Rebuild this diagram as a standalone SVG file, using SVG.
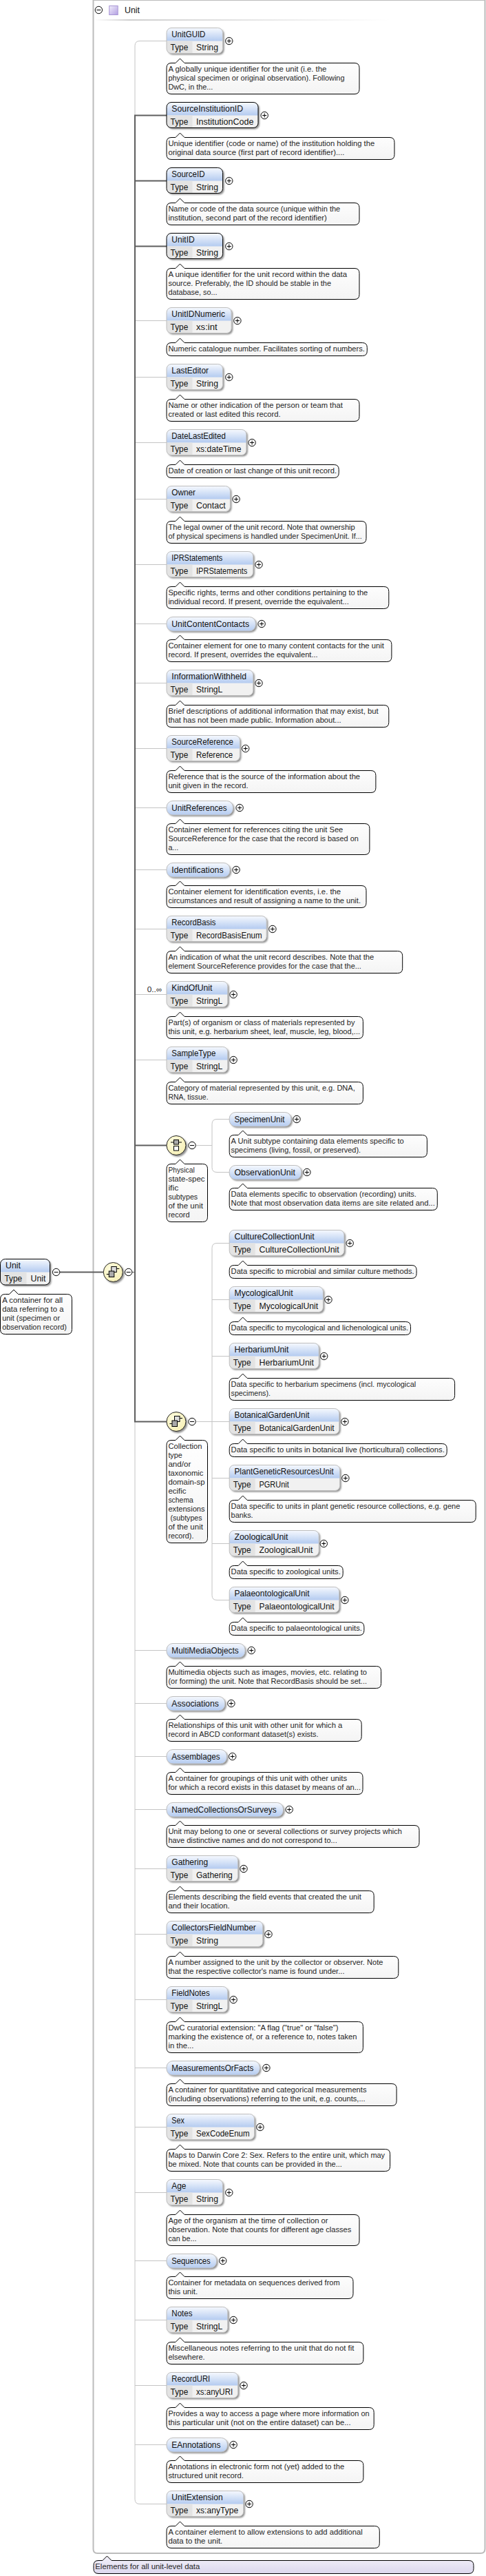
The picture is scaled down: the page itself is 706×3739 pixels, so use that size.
<svg xmlns="http://www.w3.org/2000/svg" xmlns:xlink="http://www.w3.org/1999/xlink" width="706" height="3739" viewBox="0 0 706 3739">
<style>
text{font-family:"Liberation Sans",Arial,sans-serif;font-size:11px;fill:#262626}
.n,.v{font-size:12px;fill:#111}
.b{fill:#f1f1f1;filter:url(#sh)}
.h{fill:url(#hd)}
.hs{fill:url(#hd);filter:url(#sh)}
.t{fill:#e3e3e3}
.o{fill:none;stroke:#bdbdbd;stroke-width:1}
.r{fill:none;stroke:#000;stroke-width:1}
.c{fill:url(#bb);stroke:#000;stroke-width:1}
.thin{fill:none;stroke:#c4c4c4;stroke-width:1}
.thick{fill:none;stroke:#5e5e5e;stroke-width:2}
</style>
<defs>
<linearGradient id="hd" x1="0" y1="0" x2="0" y2="1"><stop offset="0" stop-color="#f6f9fe"/><stop offset="1" stop-color="#b4cbf0"/></linearGradient>
<linearGradient id="bb" x1="0" y1="0" x2="0" y2="1"><stop offset="0" stop-color="#ffffff"/><stop offset="1" stop-color="#f4f4f4"/></linearGradient>
<linearGradient id="lv" x1="0" y1="0" x2="0" y2="1"><stop offset="0" stop-color="#f3f1fa"/><stop offset="1" stop-color="#dcd8ee"/></linearGradient>
<linearGradient id="pu" x1="0" y1="0" x2="1" y2="1"><stop offset="0" stop-color="#f2eefb"/><stop offset="1" stop-color="#b3a0e2"/></linearGradient>
<linearGradient id="fade" x1="0" y1="0" x2="1" y2="0"><stop offset="0" stop-color="#ffffff"/><stop offset=".12" stop-color="#cfcfcf"/><stop offset="1" stop-color="#ffffff"/></linearGradient>
<radialGradient id="ye" cx=".4" cy=".35" r=".7"><stop offset="0" stop-color="#fffde2"/><stop offset="1" stop-color="#f6efb4"/></radialGradient>
<filter id="sh" x="-10%" y="-10%" width="125%" height="130%"><feDropShadow dx="2" dy="2" stdDeviation=".8" flood-color="#555" flood-opacity=".65"/></filter>
<g id="p"><circle r="5.2" fill="#fff" stroke="#000"/><path d="M-3 0H3M0-3V3" stroke="#000" stroke-width="1"/></g>
<g id="m"><circle r="5.2" fill="#fff" stroke="#000"/><path d="M-3 0H3" stroke="#000" stroke-width="1"/></g>
<g id="seq"><circle r="14" fill="url(#ye)" stroke="#222" filter="url(#sh)"/><path d="M-9.5 3H-6M4.5-5H9" stroke="#000" fill="none"/><rect x="-2.5" y="-8" width="7.5" height="8" fill="#ddd" stroke="#000"/><rect x="-6" y="-1.5" width="7.5" height="8.5" fill="#aaa" stroke="#000"/></g>
<g id="cho"><circle r="14" fill="url(#ye)" stroke="#222" filter="url(#sh)"/><path d="M-8 -4.500H8" stroke="#000"/><rect x="-3.500" y="-8" width="7" height="6.500" fill="#aaa" stroke="#000"/><rect x="-3.500" y="1" width="7" height="6.500" fill="#fff" stroke="#000"/></g>
</defs>

<g id="container">
<path d="M135.500 0V3700q0 6 6 6H698q6.500 0 6.500-6.500V0" fill="none" stroke="#bcbcbc" stroke-width="2"/>
<path d="M136 0.500H705" stroke="#bcbcbc" stroke-width="1"/>
<rect x="137" y="28" width="430" height="2" fill="url(#fade)"/>
<use href="#m" x="143.400" y="14.500"/>
<rect x="158.700" y="8.500" width="12.500" height="13" fill="url(#pu)" stroke="#a896d4"/>
<text class="n" x="181" y="18.500" textLength="22" lengthAdjust="spacingAndGlyphs">Unit</text>
</g>

<g id="connectors">
<path class="thin" d="M242 59.500H203Q196 59.500 196 66.500V167"/>
<path class="thin" d="M196 2063V3627.500Q196 3634.500 203 3634.500H242"/>
<path class="thin" d="M196 465.500H242M196 547.500H242M196 642.500H242M196 724.500H242M196 819.500H242M196 905.500H242M196 991.500H242M196 1086.500H242M196 1172.500H242M196 1262.500H242M196 1348.500H242M196 1443.500H242M196 1538.500H242M196 2395.500H242M196 2472.500H242M196 2549.500H242M196 2626.500H242M196 2712.500H242M196 2807.500H242M196 2902.500H242M196 3001.500H242M196 3087.500H242M196 3182.500H242M196 3281.500H242M196 3367.500H242M196 3462.500H242M196 3548.500H242"/>
<path class="thick" d="M242 167.500H196V2063.500H242M242 262.500H196M242 357.500H196M242 1662.500H196"/>
<path class="thick" d="M87 1846.500H150"/>
<path class="thick" style="stroke-width:1" d="M192 1846.500H196"/>
<path class="thin" d="M285 1662.500H308M333 1624.500H315Q308 1624.500 308 1631.500V1694.500Q308 1701.500 315 1701.500H333"/>
<path class="thin" d="M285 2063.500H333M333 1804.500H315Q308 1804.500 308 1811.500V2315.500Q308 2322.500 315 2322.500H333M308 1886.500H333M308 1968.500H333M308 2145.500H333M308 2240.500H333"/>
</g>

<g id="Unit"><g transform="translate(0.500,1827.500)"><rect class="b" width="72" height="37.500" rx="7"/><path class="h" d="M0 19V7q0-7 7-7H65q7 0 7 7V19z"/><path class="t" d="M0 19H38V37.500H7q-7 0-7-7z"/><rect class="r" width="72" height="37.500" rx="7"/><text class="n" x="7.500" y="13.500" textLength="22" lengthAdjust="spacingAndGlyphs">Unit</text><text class="v" x="6" y="32.500" textLength="25.700" lengthAdjust="spacingAndGlyphs">Type</text><text class="v" x="44" y="32.500" textLength="22" lengthAdjust="spacingAndGlyphs">Unit</text></g><use href="#m" x="81.600" y="1846.500"/><g transform="translate(0.500,1878.500)"><path class="c" d="M7 0h6l6.500-6.500 6.500 6.500H97q7 0 7 7v44q0 7-7 7H7q-7 0-7-7V7q0-7 7-7z"/><text x="2.700" y="12.500" textLength="87.900" lengthAdjust="spacingAndGlyphs">A container for all</text><text x="2.700" y="25.500" textLength="89.300" lengthAdjust="spacingAndGlyphs">data referring to a</text><text x="2.700" y="38.500" textLength="83.900" lengthAdjust="spacingAndGlyphs">unit (specimen or</text><text x="2.700" y="51.500" textLength="93.800" lengthAdjust="spacingAndGlyphs">observation record)</text></g></g>

<g id="SeqMain"><use href="#seq" x="164.300" y="1846.500"/><use href="#m" x="186.700" y="1846.500"/></g>

<g id="UnitGUID"><g transform="translate(242,40.500)"><rect class="b" width="81.600" height="37" rx="7"/><path class="h" d="M0 19V7q0-7 7-7H74.600q7 0 7 7V19z"/><path class="t" d="M0 19H37.500V37H7q-7 0-7-7z"/><rect class="o" width="81.600" height="37" rx="7"/><text class="n" x="7.300" y="13.500" textLength="49.100" lengthAdjust="spacingAndGlyphs">UnitGUID</text><text class="v" x="5.600" y="32.500" textLength="25.700" lengthAdjust="spacingAndGlyphs">Type</text><text class="v" x="43" y="32.500" textLength="32" lengthAdjust="spacingAndGlyphs">String</text></g><use href="#p" x="332.800" y="59.500"/><g transform="translate(242,91.500)"><path class="c" d="M7 0h6l6.500-6.500 6.500 6.500H273q7 0 7 7v31q0 7-7 7H7q-7 0-7-7V7q0-7 7-7z"/><text x="2.400" y="12.500" textLength="230" lengthAdjust="spacingAndGlyphs">A globally unique identifier for the unit (i.e. the</text><text x="2.400" y="25.500" textLength="256.100" lengthAdjust="spacingAndGlyphs">physical specimen or original observation). Following</text><text x="2.400" y="38.500" textLength="64.900" lengthAdjust="spacingAndGlyphs">DwC, in the...</text></g></g>

<g id="SourceInstitutionID"><g transform="translate(242,148.500)"><rect class="b" width="133" height="37" rx="7"/><path class="h" d="M0 19V7q0-7 7-7H126q7 0 7 7V19z"/><path class="t" d="M0 19H37.500V37H7q-7 0-7-7z"/><rect class="r" width="133" height="37" rx="7"/><text class="n" x="7.300" y="13.500" textLength="103.700" lengthAdjust="spacingAndGlyphs">SourceInstitutionID</text><text class="v" x="5.600" y="32.500" textLength="25.700" lengthAdjust="spacingAndGlyphs">Type</text><text class="v" x="43" y="32.500" textLength="83.400" lengthAdjust="spacingAndGlyphs">InstitutionCode</text></g><use href="#p" x="384.200" y="167.500"/><g transform="translate(242,199.500)"><path class="c" d="M7 0h6l6.500-6.500 6.500 6.500H324q7 0 7 7v18q0 7-7 7H7q-7 0-7-7V7q0-7 7-7z"/><text x="2.400" y="12.500" textLength="299.800" lengthAdjust="spacingAndGlyphs">Unique identifier (code or name) of the institution holding the</text><text x="2.400" y="25.500" textLength="256.100" lengthAdjust="spacingAndGlyphs">original data source (first part of record identifier)....</text></g></g>

<g id="SourceID"><g transform="translate(242,243.500)"><rect class="b" width="81.600" height="37" rx="7"/><path class="h" d="M0 19V7q0-7 7-7H74.600q7 0 7 7V19z"/><path class="t" d="M0 19H37.500V37H7q-7 0-7-7z"/><rect class="r" width="81.600" height="37" rx="7"/><text class="n" x="7.300" y="13.500" textLength="48.200" lengthAdjust="spacingAndGlyphs">SourceID</text><text class="v" x="5.600" y="32.500" textLength="25.700" lengthAdjust="spacingAndGlyphs">Type</text><text class="v" x="43" y="32.500" textLength="32" lengthAdjust="spacingAndGlyphs">String</text></g><use href="#p" x="332.800" y="262.500"/><g transform="translate(242,294.500)"><path class="c" d="M7 0h6l6.500-6.500 6.500 6.500H273q7 0 7 7v18q0 7-7 7H7q-7 0-7-7V7q0-7 7-7z"/><text x="2.400" y="12.500" textLength="249.800" lengthAdjust="spacingAndGlyphs">Name or code of the data source (unique within the</text><text x="2.400" y="25.500" textLength="230.400" lengthAdjust="spacingAndGlyphs">institution, second part of the record identifier)</text></g></g>

<g id="UnitID"><g transform="translate(242,338.500)"><rect class="b" width="81.600" height="37" rx="7"/><path class="h" d="M0 19V7q0-7 7-7H74.600q7 0 7 7V19z"/><path class="t" d="M0 19H37.500V37H7q-7 0-7-7z"/><rect class="r" width="81.600" height="37" rx="7"/><text class="n" x="7.300" y="13.500" textLength="33.400" lengthAdjust="spacingAndGlyphs">UnitID</text><text class="v" x="5.600" y="32.500" textLength="25.700" lengthAdjust="spacingAndGlyphs">Type</text><text class="v" x="43" y="32.500" textLength="32" lengthAdjust="spacingAndGlyphs">String</text></g><use href="#p" x="332.800" y="357.500"/><g transform="translate(242,389.500)"><path class="c" d="M7 0h6l6.500-6.500 6.500 6.500H273q7 0 7 7v31q0 7-7 7H7q-7 0-7-7V7q0-7 7-7z"/><text x="2.400" y="12.500" textLength="259.700" lengthAdjust="spacingAndGlyphs">A unique identifier for the unit record within the data</text><text x="2.400" y="25.500" textLength="236.700" lengthAdjust="spacingAndGlyphs">source. Preferably, the ID should be stable in the</text><text x="2.400" y="38.500" textLength="71.200" lengthAdjust="spacingAndGlyphs">database, so...</text></g></g>

<g id="UnitIDNumeric"><g transform="translate(242,446.500)"><rect class="b" width="94.200" height="37" rx="7"/><path class="h" d="M0 19V7q0-7 7-7H87.200q7 0 7 7V19z"/><path class="t" d="M0 19H37.500V37H7q-7 0-7-7z"/><rect class="o" width="94.200" height="37" rx="7"/><text class="n" x="7.300" y="13.500" textLength="77.600" lengthAdjust="spacingAndGlyphs">UnitIDNumeric</text><text class="v" x="5.600" y="32.500" textLength="25.700" lengthAdjust="spacingAndGlyphs">Type</text><text class="v" x="43" y="32.500" textLength="30.700" lengthAdjust="spacingAndGlyphs">xs:int</text></g><use href="#p" x="344.900" y="465.500"/><g transform="translate(242,497.500)"><path class="c" d="M7 0h6l6.500-6.500 6.500 6.500H284.300q7 0 7 7v5q0 7-7 7H7q-7 0-7-7V7q0-7 7-7z"/><text x="2.400" y="12.500" textLength="285.400" lengthAdjust="spacingAndGlyphs">Numeric catalogue number. Facilitates sorting of numbers.</text></g></g>

<g id="LastEditor"><g transform="translate(242,528.500)"><rect class="b" width="81.600" height="37" rx="7"/><path class="h" d="M0 19V7q0-7 7-7H74.600q7 0 7 7V19z"/><path class="t" d="M0 19H37.500V37H7q-7 0-7-7z"/><rect class="o" width="81.600" height="37" rx="7"/><text class="n" x="7.300" y="13.500" textLength="53.700" lengthAdjust="spacingAndGlyphs">LastEditor</text><text class="v" x="5.600" y="32.500" textLength="25.700" lengthAdjust="spacingAndGlyphs">Type</text><text class="v" x="43" y="32.500" textLength="32" lengthAdjust="spacingAndGlyphs">String</text></g><use href="#p" x="332.800" y="547.500"/><g transform="translate(242,579.500)"><path class="c" d="M7 0h6l6.500-6.500 6.500 6.500H273q7 0 7 7v18q0 7-7 7H7q-7 0-7-7V7q0-7 7-7z"/><text x="2.400" y="12.500" textLength="253.400" lengthAdjust="spacingAndGlyphs">Name or other indication of the person or team that</text><text x="2.400" y="25.500" textLength="163.200" lengthAdjust="spacingAndGlyphs">created or last edited this record.</text></g></g>

<g id="DateLastEdited"><g transform="translate(242,623.500)"><rect class="b" width="115.900" height="37" rx="7"/><path class="h" d="M0 19V7q0-7 7-7H108.900q7 0 7 7V19z"/><path class="t" d="M0 19H37.500V37H7q-7 0-7-7z"/><rect class="o" width="115.900" height="37" rx="7"/><text class="n" x="7.300" y="13.500" textLength="78.500" lengthAdjust="spacingAndGlyphs">DateLastEdited</text><text class="v" x="5.600" y="32.500" textLength="25.700" lengthAdjust="spacingAndGlyphs">Type</text><text class="v" x="43" y="32.500" textLength="65.400" lengthAdjust="spacingAndGlyphs">xs:dateTime</text></g><use href="#p" x="366.100" y="642.500"/><g transform="translate(242,674.500)"><path class="c" d="M7 0h6l6.500-6.500 6.500 6.500H243.200q7 0 7 7v5q0 7-7 7H7q-7 0-7-7V7q0-7 7-7z"/><text x="2.400" y="12.500" textLength="244.800" lengthAdjust="spacingAndGlyphs">Date of creation or last change of this unit record.</text></g></g>

<g id="Owner"><g transform="translate(242,705.500)"><rect class="b" width="92.400" height="37" rx="7"/><path class="h" d="M0 19V7q0-7 7-7H85.400q7 0 7 7V19z"/><path class="t" d="M0 19H37.500V37H7q-7 0-7-7z"/><rect class="o" width="92.400" height="37" rx="7"/><text class="n" x="7.300" y="13.500" textLength="34.700" lengthAdjust="spacingAndGlyphs">Owner</text><text class="v" x="5.600" y="32.500" textLength="25.700" lengthAdjust="spacingAndGlyphs">Type</text><text class="v" x="43" y="32.500" textLength="42.800" lengthAdjust="spacingAndGlyphs">Contact</text></g><use href="#p" x="343.100" y="724.500"/><g transform="translate(242,756.500)"><path class="c" d="M7 0h6l6.500-6.500 6.500 6.500H283q7 0 7 7v18q0 7-7 7H7q-7 0-7-7V7q0-7 7-7z"/><text x="2.400" y="12.500" textLength="271.400" lengthAdjust="spacingAndGlyphs">The legal owner of the unit record. Note that ownership</text><text x="2.400" y="25.500" textLength="281.400" lengthAdjust="spacingAndGlyphs">of physical specimens is handled under SpecimenUnit. If...</text></g></g>

<g id="IPRStatements"><g transform="translate(242,800.500)"><rect class="b" width="125.800" height="37" rx="7"/><path class="h" d="M0 19V7q0-7 7-7H118.800q7 0 7 7V19z"/><path class="t" d="M0 19H37.500V37H7q-7 0-7-7z"/><rect class="o" width="125.800" height="37" rx="7"/><text class="n" x="7.300" y="13.500" textLength="73.900" lengthAdjust="spacingAndGlyphs">IPRStatements</text><text class="v" x="5.600" y="32.500" textLength="25.700" lengthAdjust="spacingAndGlyphs">Type</text><text class="v" x="43" y="32.500" textLength="74.400" lengthAdjust="spacingAndGlyphs">IPRStatements</text></g><use href="#p" x="376" y="819.500"/><g transform="translate(242,851.500)"><path class="c" d="M7 0h6l6.500-6.500 6.500 6.500H315.800q7 0 7 7v18q0 7-7 7H7q-7 0-7-7V7q0-7 7-7z"/><text x="2.400" y="12.500" textLength="289.900" lengthAdjust="spacingAndGlyphs">Specific rights, terms and other conditions pertaining to the</text><text x="2.400" y="25.500" textLength="262.400" lengthAdjust="spacingAndGlyphs">individual record. If present, override the equivalent...</text></g></g>

<g id="UnitContentContacts"><g transform="translate(242,895.500)"><rect class="hs" width="129.400" height="20.500" rx="9"/><rect class="o" width="129.400" height="20.500" rx="9"/><text class="n" x="7.300" y="14" textLength="112.700" lengthAdjust="spacingAndGlyphs">UnitContentContacts</text></g><use href="#p" x="380.100" y="905.500"/><g transform="translate(242,928.500)"><path class="c" d="M7 0h6l6.500-6.500 6.500 6.500H319.900q7 0 7 7v18q0 7-7 7H7q-7 0-7-7V7q0-7 7-7z"/><text x="2.400" y="12.500" textLength="313.400" lengthAdjust="spacingAndGlyphs">Container element for one to many content contacts for the unit</text><text x="2.400" y="25.500" textLength="217.300" lengthAdjust="spacingAndGlyphs">record. If present, overrides the equivalent...</text></g></g>

<g id="InformationWithheld"><g transform="translate(242,972.500)"><rect class="b" width="125.800" height="37" rx="7"/><path class="h" d="M0 19V7q0-7 7-7H118.800q7 0 7 7V19z"/><path class="t" d="M0 19H37.500V37H7q-7 0-7-7z"/><rect class="o" width="125.800" height="37" rx="7"/><text class="n" x="7.300" y="13.500" textLength="108.700" lengthAdjust="spacingAndGlyphs">InformationWithheld</text><text class="v" x="5.600" y="32.500" textLength="25.700" lengthAdjust="spacingAndGlyphs">Type</text><text class="v" x="43" y="32.500" textLength="38.300" lengthAdjust="spacingAndGlyphs">StringL</text></g><use href="#p" x="376" y="991.500"/><g transform="translate(242,1023.500)"><path class="c" d="M7 0h6l6.500-6.500 6.500 6.500H315.800q7 0 7 7v18q0 7-7 7H7q-7 0-7-7V7q0-7 7-7z"/><text x="2.400" y="12.500" textLength="305.300" lengthAdjust="spacingAndGlyphs">Brief descriptions of additional information that may exist, but</text><text x="2.400" y="25.500" textLength="251.200" lengthAdjust="spacingAndGlyphs">that has not been made public. Information about...</text></g></g>

<g id="SourceReference"><g transform="translate(242,1067.500)"><rect class="b" width="106.400" height="37" rx="7"/><path class="h" d="M0 19V7q0-7 7-7H99.400q7 0 7 7V19z"/><path class="t" d="M0 19H37.500V37H7q-7 0-7-7z"/><rect class="o" width="106.400" height="37" rx="7"/><text class="n" x="7.300" y="13.500" textLength="89.700" lengthAdjust="spacingAndGlyphs">SourceReference</text><text class="v" x="5.600" y="32.500" textLength="25.700" lengthAdjust="spacingAndGlyphs">Type</text><text class="v" x="43" y="32.500" textLength="53.200" lengthAdjust="spacingAndGlyphs">Reference</text></g><use href="#p" x="356.700" y="1086.500"/><g transform="translate(242,1118.500)"><path class="c" d="M7 0h6l6.500-6.500 6.500 6.500H296.900q7 0 7 7v18q0 7-7 7H7q-7 0-7-7V7q0-7 7-7z"/><text x="2.400" y="12.500" textLength="278.700" lengthAdjust="spacingAndGlyphs">Reference that is the source of the information about the</text><text x="2.400" y="25.500" textLength="116.300" lengthAdjust="spacingAndGlyphs">unit given in the record.</text></g></g>

<g id="UnitReferences"><g transform="translate(242,1162.500)"><rect class="hs" width="96.500" height="20.500" rx="9"/><rect class="o" width="96.500" height="20.500" rx="9"/><text class="n" x="7.300" y="14" textLength="80.300" lengthAdjust="spacingAndGlyphs">UnitReferences</text></g><use href="#p" x="348.100" y="1172.500"/><g transform="translate(242,1195.500)"><path class="c" d="M7 0h6l6.500-6.500 6.500 6.500H287.900q7 0 7 7v31q0 7-7 7H7q-7 0-7-7V7q0-7 7-7z"/><text x="2.400" y="12.500" textLength="253.900" lengthAdjust="spacingAndGlyphs">Container element for references citing the unit See</text><text x="2.400" y="25.500" textLength="276.400" lengthAdjust="spacingAndGlyphs">SourceReference for the case that the record is based on</text><text x="2.400" y="38.500" textLength="14.900" lengthAdjust="spacingAndGlyphs">a...</text></g></g>

<g id="Identifications"><g transform="translate(242,1252.500)"><rect class="hs" width="92" height="20.500" rx="9"/><rect class="o" width="92" height="20.500" rx="9"/><text class="n" x="7.300" y="14" textLength="75.300" lengthAdjust="spacingAndGlyphs">Identifications</text></g><use href="#p" x="343.100" y="1262.500"/><g transform="translate(242,1285.500)"><path class="c" d="M7 0h6l6.500-6.500 6.500 6.500H283q7 0 7 7v18q0 7-7 7H7q-7 0-7-7V7q0-7 7-7z"/><text x="2.400" y="12.500" textLength="250.700" lengthAdjust="spacingAndGlyphs">Container element for identification events, i.e. the</text><text x="2.400" y="25.500" textLength="279.600" lengthAdjust="spacingAndGlyphs">circumstances and result of assigning a name to the unit.</text></g></g>

<g id="RecordBasis"><g transform="translate(242,1329.500)"><rect class="b" width="145.200" height="37" rx="7"/><path class="h" d="M0 19V7q0-7 7-7H138.200q7 0 7 7V19z"/><path class="t" d="M0 19H37.500V37H7q-7 0-7-7z"/><rect class="o" width="145.200" height="37" rx="7"/><text class="n" x="7.300" y="13.500" textLength="64" lengthAdjust="spacingAndGlyphs">RecordBasis</text><text class="v" x="5.600" y="32.500" textLength="25.700" lengthAdjust="spacingAndGlyphs">Type</text><text class="v" x="43" y="32.500" textLength="95.600" lengthAdjust="spacingAndGlyphs">RecordBasisEnum</text></g><use href="#p" x="395.900" y="1348.500"/><g transform="translate(242,1380.500)"><path class="c" d="M7 0h6l6.500-6.500 6.500 6.500H335.700q7 0 7 7v18q0 7-7 7H7q-7 0-7-7V7q0-7 7-7z"/><text x="2.400" y="12.500" textLength="298.900" lengthAdjust="spacingAndGlyphs">An indication of what the unit record describes. Note that the</text><text x="2.400" y="25.500" textLength="280.500" lengthAdjust="spacingAndGlyphs">element SourceReference provides for the case that the...</text></g></g>

<g id="KindOfUnit"><g transform="translate(242,1424.500)"><rect class="b" width="88.800" height="37" rx="7"/><path class="h" d="M0 19V7q0-7 7-7H81.800q7 0 7 7V19z"/><path class="t" d="M0 19H37.500V37H7q-7 0-7-7z"/><rect class="o" width="88.800" height="37" rx="7"/><text class="n" x="7.300" y="13.500" textLength="59.100" lengthAdjust="spacingAndGlyphs">KindOfUnit</text><text class="v" x="5.600" y="32.500" textLength="25.700" lengthAdjust="spacingAndGlyphs">Type</text><text class="v" x="43" y="32.500" textLength="38.300" lengthAdjust="spacingAndGlyphs">StringL</text></g><use href="#p" x="339.100" y="1443.500"/><text x="213.700" y="1440" textLength="21.700" lengthAdjust="spacingAndGlyphs">0..∞</text><g transform="translate(242,1475.500)"><path class="c" d="M7 0h6l6.500-6.500 6.500 6.500H278.400q7 0 7 7v18q0 7-7 7H7q-7 0-7-7V7q0-7 7-7z"/><text x="2.400" y="12.500" textLength="271" lengthAdjust="spacingAndGlyphs">Part(s) of organism or class of materials represented by</text><text x="2.400" y="25.500" textLength="278.700" lengthAdjust="spacingAndGlyphs">this unit, e.g. herbarium sheet, leaf, muscle, leg, blood,...</text></g></g>

<g id="SampleType"><g transform="translate(242,1519.500)"><rect class="b" width="88.800" height="37" rx="7"/><path class="h" d="M0 19V7q0-7 7-7H81.800q7 0 7 7V19z"/><path class="t" d="M0 19H37.500V37H7q-7 0-7-7z"/><rect class="o" width="88.800" height="37" rx="7"/><text class="n" x="7.300" y="13.500" textLength="64" lengthAdjust="spacingAndGlyphs">SampleType</text><text class="v" x="5.600" y="32.500" textLength="25.700" lengthAdjust="spacingAndGlyphs">Type</text><text class="v" x="43" y="32.500" textLength="38.300" lengthAdjust="spacingAndGlyphs">StringL</text></g><use href="#p" x="339.100" y="1538.500"/><g transform="translate(242,1570.500)"><path class="c" d="M7 0h6l6.500-6.500 6.500 6.500H278.400q7 0 7 7v18q0 7-7 7H7q-7 0-7-7V7q0-7 7-7z"/><text x="2.400" y="12.500" textLength="271.400" lengthAdjust="spacingAndGlyphs">Category of material represented by this unit, e.g. DNA,</text><text x="2.400" y="25.500" textLength="58.200" lengthAdjust="spacingAndGlyphs">RNA, tissue.</text></g></g>

<g id="ChoicePhysical"><use href="#cho" x="256" y="1662.500"/><use href="#m" x="279" y="1662.500"/><g transform="translate(242,1689.500)"><path class="c" d="M7 0h6l6.500-6.500 6.500 6.500H52.500q7 0 7 7v70q0 7-7 7H7q-7 0-7-7V7q0-7 7-7z"/><text x="2.400" y="12.500" textLength="38.300" lengthAdjust="spacingAndGlyphs">Physical</text><text x="2.400" y="25.500" textLength="53.200" lengthAdjust="spacingAndGlyphs">state-spec</text><text x="2.400" y="38.500" textLength="14.900" lengthAdjust="spacingAndGlyphs">ific</text><text x="2.400" y="51.500" textLength="42.800" lengthAdjust="spacingAndGlyphs">subtypes</text><text x="2.400" y="64.500" textLength="50.500" lengthAdjust="spacingAndGlyphs">of the unit</text><text x="2.400" y="77.500" textLength="31.100" lengthAdjust="spacingAndGlyphs">record</text></g></g>

<g id="SpecimenUnit"><g transform="translate(333.200,1614.500)"><rect class="hs" width="89.700" height="20.500" rx="9"/><rect class="o" width="89.700" height="20.500" rx="9"/><text class="n" x="7.300" y="14" textLength="73" lengthAdjust="spacingAndGlyphs">SpecimenUnit</text></g><use href="#p" x="431" y="1624.500"/><g transform="translate(333.200,1647.500)"><path class="c" d="M7 0h6l6.500-6.500 6.500 6.500H280.200q7 0 7 7v18q0 7-7 7H7q-7 0-7-7V7q0-7 7-7z"/><text x="2.400" y="12.500" textLength="251.200" lengthAdjust="spacingAndGlyphs">A Unit subtype containing data elements specific to</text><text x="2.400" y="25.500" textLength="188.500" lengthAdjust="spacingAndGlyphs">specimens (living, fossil, or preserved).</text></g></g>

<g id="ObservationUnit"><g transform="translate(333.200,1691.500)"><rect class="hs" width="104.600" height="20.500" rx="9"/><rect class="o" width="104.600" height="20.500" rx="9"/><text class="n" x="7.300" y="14" textLength="88.400" lengthAdjust="spacingAndGlyphs">ObservationUnit</text></g><use href="#p" x="445.900" y="1701.500"/><g transform="translate(333.200,1724.500)"><path class="c" d="M7 0h6l6.500-6.500 6.500 6.500H295.100q7 0 7 7v18q0 7-7 7H7q-7 0-7-7V7q0-7 7-7z"/><text x="2.400" y="12.500" textLength="269.200" lengthAdjust="spacingAndGlyphs">Data elements specific to observation (recording) units.</text><text x="2.400" y="25.500" textLength="296.200" lengthAdjust="spacingAndGlyphs">Note that most observation data items are site related and...</text></g></g>

<g id="CultureCollectionUnit"><g transform="translate(333.200,1785.500)"><rect class="b" width="166.800" height="37" rx="7"/><path class="h" d="M0 19V7q0-7 7-7H159.800q7 0 7 7V19z"/><path class="t" d="M0 19H37.500V37H7q-7 0-7-7z"/><rect class="o" width="166.800" height="37" rx="7"/><text class="n" x="7.300" y="13.500" textLength="116.300" lengthAdjust="spacingAndGlyphs">CultureCollectionUnit</text><text class="v" x="5.600" y="32.500" textLength="25.700" lengthAdjust="spacingAndGlyphs">Type</text><text class="v" x="43.300" y="32.500" textLength="116.300" lengthAdjust="spacingAndGlyphs">CultureCollectionUnit</text></g><use href="#p" x="508.200" y="1804.500"/><g transform="translate(333.200,1836.500)"><path class="c" d="M7 0h6l6.500-6.500 6.500 6.500H264.900q7 0 7 7v5q0 7-7 7H7q-7 0-7-7V7q0-7 7-7z"/><text x="2.400" y="12.500" textLength="266" lengthAdjust="spacingAndGlyphs">Data specific to microbial and similar culture methods.</text></g></g>

<g id="MycologicalUnit"><g transform="translate(333.200,1867.500)"><rect class="b" width="136.200" height="37" rx="7"/><path class="h" d="M0 19V7q0-7 7-7H129.200q7 0 7 7V19z"/><path class="t" d="M0 19H37.500V37H7q-7 0-7-7z"/><rect class="o" width="136.200" height="37" rx="7"/><text class="n" x="7.300" y="13.500" textLength="85.200" lengthAdjust="spacingAndGlyphs">MycologicalUnit</text><text class="v" x="5.600" y="32.500" textLength="25.700" lengthAdjust="spacingAndGlyphs">Type</text><text class="v" x="43.300" y="32.500" textLength="85.700" lengthAdjust="spacingAndGlyphs">MycologicalUnit</text></g><use href="#p" x="477" y="1886.500"/><g transform="translate(333.200,1918.500)"><path class="c" d="M7 0h6l6.500-6.500 6.500 6.500H256.300q7 0 7 7v5q0 7-7 7H7q-7 0-7-7V7q0-7 7-7z"/><text x="2.400" y="12.500" textLength="257.500" lengthAdjust="spacingAndGlyphs">Data specific to mycological and lichenological units.</text></g></g>

<g id="HerbariumUnit"><g transform="translate(333.200,1949.500)"><rect class="b" width="130" height="37" rx="7"/><path class="h" d="M0 19V7q0-7 7-7H123q7 0 7 7V19z"/><path class="t" d="M0 19H37.500V37H7q-7 0-7-7z"/><rect class="o" width="130" height="37" rx="7"/><text class="n" x="7.300" y="13.500" textLength="78.900" lengthAdjust="spacingAndGlyphs">HerbariumUnit</text><text class="v" x="5.600" y="32.500" textLength="25.700" lengthAdjust="spacingAndGlyphs">Type</text><text class="v" x="43.300" y="32.500" textLength="79.400" lengthAdjust="spacingAndGlyphs">HerbariumUnit</text></g><use href="#p" x="470.700" y="1968.500"/><g transform="translate(333.200,2000.500)"><path class="c" d="M7 0h6l6.500-6.500 6.500 6.500H320.400q7 0 7 7v18q0 7-7 7H7q-7 0-7-7V7q0-7 7-7z"/><text x="2.400" y="12.500" textLength="268.700" lengthAdjust="spacingAndGlyphs">Data specific to herbarium specimens (incl. mycological</text><text x="2.400" y="25.500" textLength="57.300" lengthAdjust="spacingAndGlyphs">specimens).</text></g></g>

<g id="SeqCollection"><use href="#seq" x="256" y="2063.500"/><use href="#m" x="279" y="2063.500"/><g transform="translate(242,2090.500)"><path class="c" d="M7 0h6l6.500-6.500 6.500 6.500H52.500q7 0 7 7v135q0 7-7 7H7q-7 0-7-7V7q0-7 7-7z"/><text x="2.400" y="12.500" textLength="49.100" lengthAdjust="spacingAndGlyphs">Collection</text><text x="2.400" y="25.500" textLength="20.300" lengthAdjust="spacingAndGlyphs">type</text><text x="2.400" y="38.500" textLength="32.900" lengthAdjust="spacingAndGlyphs">and/or</text><text x="2.400" y="51.500" textLength="51" lengthAdjust="spacingAndGlyphs">taxonomic</text><text x="2.400" y="64.500" textLength="53.200" lengthAdjust="spacingAndGlyphs">domain-sp</text><text x="2.400" y="77.500" textLength="26.200" lengthAdjust="spacingAndGlyphs">ecific</text><text x="2.400" y="90.500" textLength="36.500" lengthAdjust="spacingAndGlyphs">schema</text><text x="2.400" y="103.500" textLength="53.200" lengthAdjust="spacingAndGlyphs">extensions</text><text x="5.500" y="116.500" textLength="46" lengthAdjust="spacingAndGlyphs">(subtypes</text><text x="2.400" y="129.500" textLength="50.500" lengthAdjust="spacingAndGlyphs">of the unit</text><text x="2.400" y="142.500" textLength="37" lengthAdjust="spacingAndGlyphs">record).</text></g></g>

<g id="BotanicalGardenUnit"><g transform="translate(333.200,2044.500)"><rect class="b" width="159.600" height="37" rx="7"/><path class="h" d="M0 19V7q0-7 7-7H152.600q7 0 7 7V19z"/><path class="t" d="M0 19H37.500V37H7q-7 0-7-7z"/><rect class="o" width="159.600" height="37" rx="7"/><text class="n" x="7.300" y="13.500" textLength="109.100" lengthAdjust="spacingAndGlyphs">BotanicalGardenUnit</text><text class="v" x="5.600" y="32.500" textLength="25.700" lengthAdjust="spacingAndGlyphs">Type</text><text class="v" x="43.300" y="32.500" textLength="109.100" lengthAdjust="spacingAndGlyphs">BotanicalGardenUnit</text></g><use href="#p" x="500.900" y="2063.500"/><g transform="translate(333.200,2095.500)"><path class="c" d="M7 0h6l6.500-6.500 6.500 6.500H309q7 0 7 7v5q0 7-7 7H7q-7 0-7-7V7q0-7 7-7z"/><text x="2.400" y="12.500" textLength="310.200" lengthAdjust="spacingAndGlyphs">Data specific to units in botanical live (horticultural) collections.</text></g></g>

<g id="PlantGeneticResourcesUnit"><g transform="translate(333.200,2126.500)"><rect class="b" width="160.500" height="37" rx="7"/><path class="h" d="M0 19V7q0-7 7-7H153.500q7 0 7 7V19z"/><path class="t" d="M0 19H37.500V37H7q-7 0-7-7z"/><rect class="o" width="160.500" height="37" rx="7"/><text class="n" x="7.300" y="13.500" textLength="144.300" lengthAdjust="spacingAndGlyphs">PlantGeneticResourcesUnit</text><text class="v" x="5.600" y="32.500" textLength="25.700" lengthAdjust="spacingAndGlyphs">Type</text><text class="v" x="43.300" y="32.500" textLength="43.300" lengthAdjust="spacingAndGlyphs">PGRUnit</text></g><use href="#p" x="501.900" y="2145.500"/><g transform="translate(333.200,2177.500)"><path class="c" d="M7 0h6l6.500-6.500 6.500 6.500H351q7 0 7 7v18q0 7-7 7H7q-7 0-7-7V7q0-7 7-7z"/><text x="2.400" y="12.500" textLength="332.800" lengthAdjust="spacingAndGlyphs">Data specific to units in plant genetic resource collections, e.g. gene</text><text x="2.400" y="25.500" textLength="32" lengthAdjust="spacingAndGlyphs">banks.</text></g></g>

<g id="ZoologicalUnit"><g transform="translate(333.200,2221.500)"><rect class="b" width="130" height="37" rx="7"/><path class="h" d="M0 19V7q0-7 7-7H123q7 0 7 7V19z"/><path class="t" d="M0 19H37.500V37H7q-7 0-7-7z"/><rect class="o" width="130" height="37" rx="7"/><text class="n" x="7.300" y="13.500" textLength="78" lengthAdjust="spacingAndGlyphs">ZoologicalUnit</text><text class="v" x="5.600" y="32.500" textLength="25.700" lengthAdjust="spacingAndGlyphs">Type</text><text class="v" x="43.300" y="32.500" textLength="78" lengthAdjust="spacingAndGlyphs">ZoologicalUnit</text></g><use href="#p" x="470.300" y="2240.500"/><g transform="translate(333.200,2272.500)"><path class="c" d="M7 0h6l6.500-6.500 6.500 6.500H158q7 0 7 7v5q0 7-7 7H7q-7 0-7-7V7q0-7 7-7z"/><text x="2.400" y="12.500" textLength="159.200" lengthAdjust="spacingAndGlyphs">Data specific to zoological units.</text></g></g>

<g id="PalaeontologicalUnit"><g transform="translate(333.200,2303.500)"><rect class="b" width="159.600" height="37" rx="7"/><path class="h" d="M0 19V7q0-7 7-7H152.600q7 0 7 7V19z"/><path class="t" d="M0 19H37.500V37H7q-7 0-7-7z"/><rect class="o" width="159.600" height="37" rx="7"/><text class="n" x="7.300" y="13.500" textLength="109.100" lengthAdjust="spacingAndGlyphs">PalaeontologicalUnit</text><text class="v" x="5.600" y="32.500" textLength="25.700" lengthAdjust="spacingAndGlyphs">Type</text><text class="v" x="43.300" y="32.500" textLength="109.100" lengthAdjust="spacingAndGlyphs">PalaeontologicalUnit</text></g><use href="#p" x="500.900" y="2322.500"/><g transform="translate(333.200,2354.500)"><path class="c" d="M7 0h6l6.500-6.500 6.500 6.500H188.700q7 0 7 7v5q0 7-7 7H7q-7 0-7-7V7q0-7 7-7z"/><text x="2.400" y="12.500" textLength="190.300" lengthAdjust="spacingAndGlyphs">Data specific to palaeontological units.</text></g></g>

<g id="MultiMediaObjects"><g transform="translate(242,2385.500)"><rect class="hs" width="114.100" height="20.500" rx="9"/><rect class="o" width="114.100" height="20.500" rx="9"/><text class="n" x="7.300" y="14" textLength="97.400" lengthAdjust="spacingAndGlyphs">MultiMediaObjects</text></g><use href="#p" x="365.200" y="2395.500"/><g transform="translate(242,2418.500)"><path class="c" d="M7 0h6l6.500-6.500 6.500 6.500H304.600q7 0 7 7v18q0 7-7 7H7q-7 0-7-7V7q0-7 7-7z"/><text x="2.400" y="12.500" textLength="288.600" lengthAdjust="spacingAndGlyphs">Multimedia objects such as images, movies, etc. relating to</text><text x="2.400" y="25.500" textLength="288.600" lengthAdjust="spacingAndGlyphs">(or forming) the unit. Note that RecordBasis should be set...</text></g></g>

<g id="Associations"><g transform="translate(242,2462.500)"><rect class="hs" width="84.800" height="20.500" rx="9"/><rect class="o" width="84.800" height="20.500" rx="9"/><text class="n" x="7.300" y="14" textLength="68.500" lengthAdjust="spacingAndGlyphs">Associations</text></g><use href="#p" x="335.900" y="2472.500"/><g transform="translate(242,2495.500)"><path class="c" d="M7 0h6l6.500-6.500 6.500 6.500H276.200q7 0 7 7v18q0 7-7 7H7q-7 0-7-7V7q0-7 7-7z"/><text x="2.400" y="12.500" textLength="253" lengthAdjust="spacingAndGlyphs">Relationships of this unit with other unit for which a</text><text x="2.400" y="25.500" textLength="218.200" lengthAdjust="spacingAndGlyphs">record in ABCD conformant dataset(s) exists.</text></g></g>

<g id="Assemblages"><g transform="translate(242,2539.500)"><rect class="hs" width="87.500" height="20.500" rx="9"/><rect class="o" width="87.500" height="20.500" rx="9"/><text class="n" x="7.300" y="14" textLength="70.300" lengthAdjust="spacingAndGlyphs">Assemblages</text></g><use href="#p" x="337.700" y="2549.500"/><g transform="translate(242,2572.500)"><path class="c" d="M7 0h6l6.500-6.500 6.500 6.500H278q7 0 7 7v18q0 7-7 7H7q-7 0-7-7V7q0-7 7-7z"/><text x="2.400" y="12.500" textLength="259.700" lengthAdjust="spacingAndGlyphs">A container for groupings of this unit with other units</text><text x="2.400" y="25.500" textLength="279.600" lengthAdjust="spacingAndGlyphs">for which a record exists in this dataset by means of an...</text></g></g>

<g id="NamedCollectionsOrSurveys"><g transform="translate(242,2616.500)"><rect class="hs" width="169.500" height="20.500" rx="9"/><rect class="o" width="169.500" height="20.500" rx="9"/><text class="n" x="7.300" y="14" textLength="152.400" lengthAdjust="spacingAndGlyphs">NamedCollectionsOrSurveys</text></g><use href="#p" x="420.200" y="2626.500"/><g transform="translate(242,2649.500)"><path class="c" d="M7 0h6l6.500-6.500 6.500 6.500H360q7 0 7 7v18q0 7-7 7H7q-7 0-7-7V7q0-7 7-7z"/><text x="2.400" y="12.500" textLength="339.500" lengthAdjust="spacingAndGlyphs">Unit may belong to one or several collections or survey projects which</text><text x="2.400" y="25.500" textLength="245.300" lengthAdjust="spacingAndGlyphs">have distinctive names and do not correspond to...</text></g></g>

<g id="Gathering"><g transform="translate(242,2693.500)"><rect class="b" width="103.700" height="37" rx="7"/><path class="h" d="M0 19V7q0-7 7-7H96.700q7 0 7 7V19z"/><path class="t" d="M0 19H37.500V37H7q-7 0-7-7z"/><rect class="o" width="103.700" height="37" rx="7"/><text class="n" x="7.300" y="13.500" textLength="52.800" lengthAdjust="spacingAndGlyphs">Gathering</text><text class="v" x="5.600" y="32.500" textLength="25.700" lengthAdjust="spacingAndGlyphs">Type</text><text class="v" x="43" y="32.500" textLength="52.800" lengthAdjust="spacingAndGlyphs">Gathering</text></g><use href="#p" x="354" y="2712.500"/><g transform="translate(242,2744.500)"><path class="c" d="M7 0h6l6.500-6.500 6.500 6.500H294.200q7 0 7 7v18q0 7-7 7H7q-7 0-7-7V7q0-7 7-7z"/><text x="2.400" y="12.500" textLength="280.500" lengthAdjust="spacingAndGlyphs">Elements describing the field events that created the unit</text><text x="2.400" y="25.500" textLength="89.300" lengthAdjust="spacingAndGlyphs">and their location.</text></g></g>

<g id="CollectorsFieldNumber"><g transform="translate(242,2788.500)"><rect class="b" width="139.800" height="37" rx="7"/><path class="h" d="M0 19V7q0-7 7-7H132.800q7 0 7 7V19z"/><path class="t" d="M0 19H37.500V37H7q-7 0-7-7z"/><rect class="o" width="139.800" height="37" rx="7"/><text class="n" x="7.300" y="13.500" textLength="122.600" lengthAdjust="spacingAndGlyphs">CollectorsFieldNumber</text><text class="v" x="5.600" y="32.500" textLength="25.700" lengthAdjust="spacingAndGlyphs">Type</text><text class="v" x="43" y="32.500" textLength="32" lengthAdjust="spacingAndGlyphs">String</text></g><use href="#p" x="390" y="2807.500"/><g transform="translate(242,2839.500)"><path class="c" d="M7 0h6l6.500-6.500 6.500 6.500H329.800q7 0 7 7v18q0 7-7 7H7q-7 0-7-7V7q0-7 7-7z"/><text x="2.400" y="12.500" textLength="312" lengthAdjust="spacingAndGlyphs">A number assigned to the unit by the collector or observer. Note</text><text x="2.400" y="25.500" textLength="256.100" lengthAdjust="spacingAndGlyphs">that the respective collector's name is found under...</text></g></g>

<g id="FieldNotes"><g transform="translate(242,2883.500)"><rect class="b" width="88.800" height="37" rx="7"/><path class="h" d="M0 19V7q0-7 7-7H81.800q7 0 7 7V19z"/><path class="t" d="M0 19H37.500V37H7q-7 0-7-7z"/><rect class="o" width="88.800" height="37" rx="7"/><text class="n" x="7.300" y="13.500" textLength="55.500" lengthAdjust="spacingAndGlyphs">FieldNotes</text><text class="v" x="5.600" y="32.500" textLength="25.700" lengthAdjust="spacingAndGlyphs">Type</text><text class="v" x="43" y="32.500" textLength="38.300" lengthAdjust="spacingAndGlyphs">StringL</text></g><use href="#p" x="339.100" y="2902.500"/><g transform="translate(242,2934.500)"><path class="c" d="M7 0h6l6.500-6.500 6.500 6.500H278.400q7 0 7 7v31q0 7-7 7H7q-7 0-7-7V7q0-7 7-7z"/><text x="2.400" y="12.500" textLength="247.100" lengthAdjust="spacingAndGlyphs">DwC curatorial extension: "A flag ("true" or "false")</text><text x="2.400" y="25.500" textLength="274.100" lengthAdjust="spacingAndGlyphs">marking the existence of, or a reference to, notes taken</text><text x="2.400" y="38.500" textLength="37" lengthAdjust="spacingAndGlyphs">in the...</text></g></g>

<g id="MeasurementsOrFacts"><g transform="translate(242,2991.500)"><rect class="hs" width="135.300" height="20.500" rx="9"/><rect class="o" width="135.300" height="20.500" rx="9"/><text class="n" x="7.300" y="14" textLength="119" lengthAdjust="spacingAndGlyphs">MeasurementsOrFacts</text></g><use href="#p" x="386.900" y="3001.500"/><g transform="translate(242,3024.500)"><path class="c" d="M7 0h6l6.500-6.500 6.500 6.500H327.100q7 0 7 7v18q0 7-7 7H7q-7 0-7-7V7q0-7 7-7z"/><text x="2.400" y="12.500" textLength="288.100" lengthAdjust="spacingAndGlyphs">A container for quantitative and categorical measurements</text><text x="2.400" y="25.500" textLength="286.300" lengthAdjust="spacingAndGlyphs">(including observations) referring to the unit, e.g. counts,...</text></g></g>

<g id="Sex"><g transform="translate(242,3068.500)"><rect class="b" width="127.600" height="37" rx="7"/><path class="h" d="M0 19V7q0-7 7-7H120.600q7 0 7 7V19z"/><path class="t" d="M0 19H37.500V37H7q-7 0-7-7z"/><rect class="o" width="127.600" height="37" rx="7"/><text class="n" x="7.300" y="13.500" textLength="18.500" lengthAdjust="spacingAndGlyphs">Sex</text><text class="v" x="5.600" y="32.500" textLength="25.700" lengthAdjust="spacingAndGlyphs">Type</text><text class="v" x="43" y="32.500" textLength="77.600" lengthAdjust="spacingAndGlyphs">SexCodeEnum</text></g><use href="#p" x="377.900" y="3087.500"/><g transform="translate(242,3119.500)"><path class="c" d="M7 0h6l6.500-6.500 6.500 6.500H317.600q7 0 7 7v18q0 7-7 7H7q-7 0-7-7V7q0-7 7-7z"/><text x="2.400" y="12.500" textLength="314.700" lengthAdjust="spacingAndGlyphs">Maps to Darwin Core 2: Sex. Refers to the entire unit, which may</text><text x="2.400" y="25.500" textLength="252.500" lengthAdjust="spacingAndGlyphs">be mixed. Note that counts can be provided in the...</text></g></g>

<g id="Age"><g transform="translate(242,3163.500)"><rect class="b" width="81.600" height="37" rx="7"/><path class="h" d="M0 19V7q0-7 7-7H74.600q7 0 7 7V19z"/><path class="t" d="M0 19H37.500V37H7q-7 0-7-7z"/><rect class="o" width="81.600" height="37" rx="7"/><text class="n" x="7.300" y="13.500" textLength="21.200" lengthAdjust="spacingAndGlyphs">Age</text><text class="v" x="5.600" y="32.500" textLength="25.700" lengthAdjust="spacingAndGlyphs">Type</text><text class="v" x="43" y="32.500" textLength="32" lengthAdjust="spacingAndGlyphs">String</text></g><use href="#p" x="332.800" y="3182.500"/><g transform="translate(242,3214.500)"><path class="c" d="M7 0h6l6.500-6.500 6.500 6.500H273q7 0 7 7v31q0 7-7 7H7q-7 0-7-7V7q0-7 7-7z"/><text x="2.400" y="12.500" textLength="232.200" lengthAdjust="spacingAndGlyphs">Age of the organism at the time of collection or</text><text x="2.400" y="25.500" textLength="266" lengthAdjust="spacingAndGlyphs">observation. Note that counts for different age classes</text><text x="2.400" y="38.500" textLength="41" lengthAdjust="spacingAndGlyphs">can be...</text></g></g>

<g id="Sequences"><g transform="translate(242,3271.500)"><rect class="hs" width="72.600" height="20.500" rx="9"/><rect class="o" width="72.600" height="20.500" rx="9"/><text class="n" x="7.300" y="14" textLength="56.400" lengthAdjust="spacingAndGlyphs">Sequences</text></g><use href="#p" x="323.700" y="3281.500"/><g transform="translate(242,3304.500)"><path class="c" d="M7 0h6l6.500-6.500 6.500 6.500H264q7 0 7 7v18q0 7-7 7H7q-7 0-7-7V7q0-7 7-7z"/><text x="2.400" y="12.500" textLength="249.300" lengthAdjust="spacingAndGlyphs">Container for metadata on sequences derived from</text><text x="2.400" y="25.500" textLength="42.800" lengthAdjust="spacingAndGlyphs">this unit.</text></g></g>

<g id="Notes"><g transform="translate(242,3348.500)"><rect class="b" width="88.800" height="37" rx="7"/><path class="h" d="M0 19V7q0-7 7-7H81.800q7 0 7 7V19z"/><path class="t" d="M0 19H37.500V37H7q-7 0-7-7z"/><rect class="o" width="88.800" height="37" rx="7"/><text class="n" x="7.300" y="13.500" textLength="30.200" lengthAdjust="spacingAndGlyphs">Notes</text><text class="v" x="5.600" y="32.500" textLength="25.700" lengthAdjust="spacingAndGlyphs">Type</text><text class="v" x="43" y="32.500" textLength="38.300" lengthAdjust="spacingAndGlyphs">StringL</text></g><use href="#p" x="339.100" y="3367.500"/><g transform="translate(242,3399.500)"><path class="c" d="M7 0h6l6.500-6.500 6.500 6.500H278.900q7 0 7 7v18q0 7-7 7H7q-7 0-7-7V7q0-7 7-7z"/><text x="2.400" y="12.500" textLength="270" lengthAdjust="spacingAndGlyphs">Miscellaneous notes referring to the unit that do not fit</text><text x="2.400" y="25.500" textLength="53.200" lengthAdjust="spacingAndGlyphs">elsewhere.</text></g></g>

<g id="RecordURI"><g transform="translate(242,3443.500)"><rect class="b" width="103.700" height="37" rx="7"/><path class="h" d="M0 19V7q0-7 7-7H96.700q7 0 7 7V19z"/><path class="t" d="M0 19H37.500V37H7q-7 0-7-7z"/><rect class="o" width="103.700" height="37" rx="7"/><text class="n" x="7.300" y="13.500" textLength="55.900" lengthAdjust="spacingAndGlyphs">RecordURI</text><text class="v" x="5.600" y="32.500" textLength="25.700" lengthAdjust="spacingAndGlyphs">Type</text><text class="v" x="43" y="32.500" textLength="53.200" lengthAdjust="spacingAndGlyphs">xs:anyURI</text></g><use href="#p" x="354" y="3462.500"/><g transform="translate(242,3494.500)"><path class="c" d="M7 0h6l6.500-6.500 6.500 6.500H294.200q7 0 7 7v18q0 7-7 7H7q-7 0-7-7V7q0-7 7-7z"/><text x="2.400" y="12.500" textLength="292.200" lengthAdjust="spacingAndGlyphs">Provides a way to access a page where more information on</text><text x="2.400" y="25.500" textLength="265.100" lengthAdjust="spacingAndGlyphs">this particular unit (not on the entire dataset) can be...</text></g></g>

<g id="EAnnotations"><g transform="translate(242,3538.500)"><rect class="hs" width="88.400" height="20.500" rx="9"/><rect class="o" width="88.400" height="20.500" rx="9"/><text class="n" x="7.300" y="14" textLength="71.200" lengthAdjust="spacingAndGlyphs">EAnnotations</text></g><use href="#p" x="339.100" y="3548.500"/><g transform="translate(242,3571.500)"><path class="c" d="M7 0h6l6.500-6.500 6.500 6.500H278.900q7 0 7 7v18q0 7-7 7H7q-7 0-7-7V7q0-7 7-7z"/><text x="2.400" y="12.500" textLength="255.700" lengthAdjust="spacingAndGlyphs">Annotations in electronic form not (yet) added to the</text><text x="2.400" y="25.500" textLength="109.600" lengthAdjust="spacingAndGlyphs">structured unit record.</text></g></g>

<g id="UnitExtension"><g transform="translate(242,3615.500)"><rect class="b" width="111.800" height="37" rx="7"/><path class="h" d="M0 19V7q0-7 7-7H104.800q7 0 7 7V19z"/><path class="t" d="M0 19H37.500V37H7q-7 0-7-7z"/><rect class="o" width="111.800" height="37" rx="7"/><text class="n" x="7.300" y="13.500" textLength="74.400" lengthAdjust="spacingAndGlyphs">UnitExtension</text><text class="v" x="5.600" y="32.500" textLength="25.700" lengthAdjust="spacingAndGlyphs">Type</text><text class="v" x="43" y="32.500" textLength="61.300" lengthAdjust="spacingAndGlyphs">xs:anyType</text></g><use href="#p" x="362.100" y="3634.500"/><g transform="translate(242,3666.500)"><path class="c" d="M7 0h6l6.500-6.500 6.500 6.500H302.300q7 0 7 7v18q0 7-7 7H7q-7 0-7-7V7q0-7 7-7z"/><text x="2.400" y="12.500" textLength="282.300" lengthAdjust="spacingAndGlyphs">A container element to allow extensions to add additional</text><text x="2.400" y="25.500" textLength="78.900" lengthAdjust="spacingAndGlyphs">data to the unit.</text></g></g>

<g id="UnitNote"><g transform="translate(136,3716.500)"><path d="M7 0h6l6.500-6.500 6.500 6.500H545q7 0 7 7v5q0 7-7 7H7q-7 0-7-7V7q0-7 7-7z" fill="url(#lv)" stroke="#000"/><text x="2.300" y="12.500" textLength="152" lengthAdjust="spacingAndGlyphs">Elements for all unit-level data</text></g></g>
</svg>
